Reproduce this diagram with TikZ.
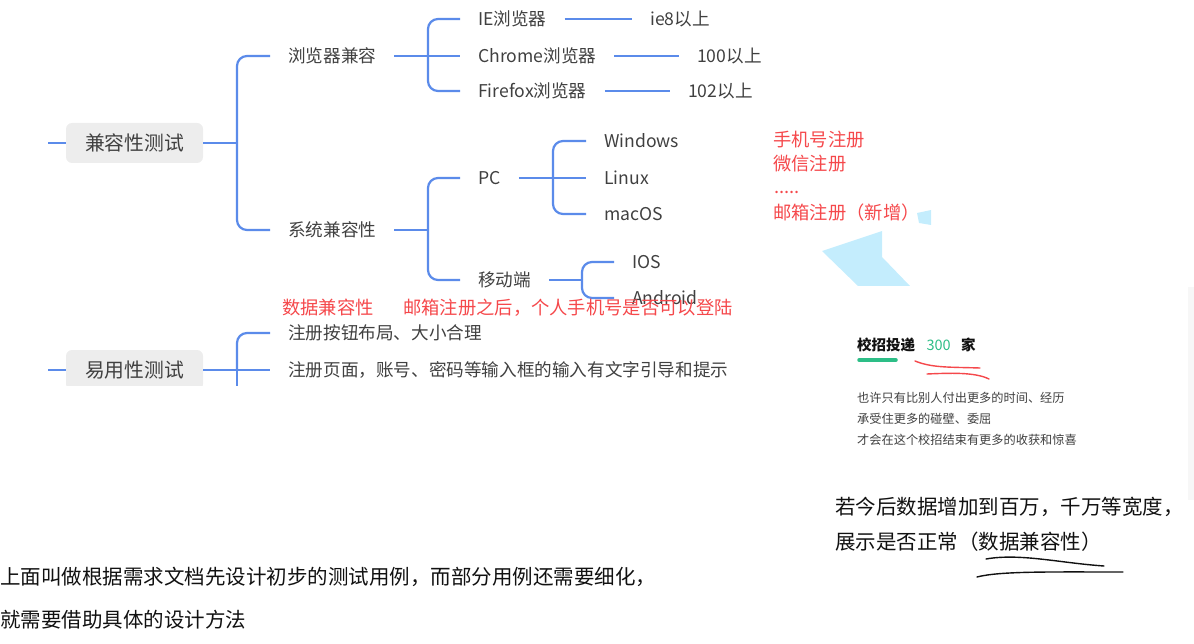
\documentclass[tikz,border=0pt]{standalone}
\usepackage{fontspec}
\setmainfont{Noto Sans CJK SC}
\usetikzlibrary{calc,positioning}
\definecolor{azul}{HTML}{5B8BEA}
\definecolor{cinza}{HTML}{404040}
\definecolor{cinzaclaro}{HTML}{EDEDED}
\definecolor{vermelho}{HTML}{F5484B}
\definecolor{verde}{HTML}{2DBE87}
\definecolor{menta}{HTML}{E3F6EE}
\definecolor{ciano}{HTML}{C4EDFD}
\definecolor{preto}{HTML}{111111}

\begin{document}
\begin{tikzpicture}[
  x=1pt,y=-1pt,
  raiz/.style={fill=cinzaclaro,rounded corners=6pt,minimum width=137pt,minimum height=40pt,
               inner sep=0pt,text=cinza,font=\fontsize{19.8}{22}\selectfont},
  ramo/.style={anchor=west,inner xsep=18pt,inner ysep=0pt,text=cinza,
               font=\fontsize{17.6}{20}\selectfont},
  lig/.style={azul,line width=2.2pt},
  chave/.style={lig,rounded corners=10pt},
  nota/.style={anchor=west,inner sep=0pt,text=vermelho,font=\fontsize{18.3}{20}\selectfont},
  texto/.style={anchor=west,inner sep=0pt,text=preto,font=\fontsize{20.5}{24}\selectfont},
  cartao/.style={anchor=west,inner sep=0pt,text=cinza,font=\fontsize{12.2}{14}\selectfont},
  rabisco/.style={line width=1.4pt,line cap=round}
]
  \useasboundingbox (0,0) rectangle (1194,644);

  % mapa mental (recortado em baixo)
  \begin{scope}
    \clip (0,0) rectangle (770,385);
    \node[raiz] (compat) at (134.5,143) {兼容性测试};
    \node[raiz] (uso) at (134.5,370) {易用性测试};
    \coordinate (in1) at (48,143);
    \coordinate (in2) at (48,370);
    \draw[lig] (in1) -- (compat.west);
    \draw[lig] (in2) -- (uso.west);

    \node[ramo] (nav) at (270,56) {浏览器兼容};
    \node[ramo] (sis) at (270,230) {系统兼容性};
    \coordinate (j1) at (237,143);
    \draw[lig] (compat.east) -- (j1);
    \draw[chave] (j1) |- (nav.west);
    \draw[chave] (j1) |- (sis.west);

    \node[ramo] (ie) at (460,19) {IE浏览器};
    \node[ramo] (chr) at (460,56) {Chrome浏览器};
    \node[ramo] (ff) at (460,91) {Firefox浏览器};
    \coordinate (j2) at (428,56);
    \draw[lig] (nav.east) -- (j2) -- (chr.west);
    \draw[chave] (j2) |- (ie.west);
    \draw[chave] (j2) |- (ff.west);

    \node[ramo] (ie8) at (632,19) {ie8以上};
    \node[ramo] (c100) at (679,56) {100以上};
    \node[ramo] (f102) at (670,91) {102以上};
    \draw[lig] (ie.east) -- (ie8.west);
    \draw[lig] (chr.east) -- (c100.west);
    \draw[lig] (ff.east) -- (f102.west);

    \node[ramo] (pc) at (460,178) {PC};
    \node[ramo] (mov) at (460,280) {移动端};
    \coordinate (j3) at (428,230);
    \draw[lig] (sis.east) -- (j3);
    \draw[chave] (j3) |- (pc.west);
    \draw[chave] (j3) |- (mov.west);

    \node[ramo] (win) at (586,141) {Windows};
    \node[ramo] (lin) at (586,178) {Linux};
    \node[ramo] (mac) at (586,214) {macOS};
    \coordinate (j4) at (553,178);
    \draw[lig] (pc.east) -- (j4) -- (lin.west);
    \draw[chave] (j4) |- (win.west);
    \draw[chave] (j4) |- (mac.west);

    \node[ramo] (ios) at (614,262) {IOS};
    \node[ramo] (and) at (614,298) {Android};
    \coordinate (j5) at (582,280);
    \draw[lig] (mov.east) -- (j5);
    \draw[chave] (j5) |- (ios.west);
    \draw[chave] (j5) |- (and.west);

    \node[ramo] (botao) at (270,333) {注册按钮布局、大小合理};
    \node[ramo] (pagina) at (270,370) {注册页面，账号、密码等输入框的输入有文字引导和提示};
    \coordinate (j6) at (237,370);
    \coordinate (fim) at (237,400);
    \draw[lig] (uso.east) -- (j6) -- (pagina.west);
    \draw[chave] (j6) |- (botao.west);
    \draw[lig] (j6) -- (fim);
  \end{scope}

  % notas em vermelho
  \node[nota] (dados) at (282,308) {数据兼容性};
  \node[nota] (login) at (403,308) {邮箱注册之后，个人手机号是否可以登陆};
  \node[nota] (tel) at (773,140) {手机号注册};
  \node[nota] (wx) at (773,164) {微信注册};
  \node[nota] (pts) at (774,192) {.....};
  \node[nota] (mail) at (773,213) {邮箱注册（新增）};

  % seta azul clara
  \fill[ciano] (822,251) -- (882,231) -- (882,257) -- (910,286) -- (858,286) -- cycle;
  \fill[ciano] (917,213) -- (931,210) -- (931,225) -- (919,223) -- cycle;

  % cartao
  \fill[left color=white,middle color=menta,right color=white] (858,287) rectangle (1188,492);
  \fill[black!3] (1188,287) rectangle (1194,500);
  \node[cartao,text=preto,font=\fontsize{14.5}{16}\bfseries] (titulo) at (857,345) {校招投递};
  \node[cartao,text=verde,font=\fontsize{14.5}{16}\selectfont,right=11pt of titulo] (num) {300};
  \node[cartao,text=preto,font=\fontsize{14.5}{16}\bfseries,right=10pt of num] (jia) {家};
  \draw[verde,line width=3.5pt,line cap=round] (859,360) -- (896,360);
  \draw[rabisco,vermelho] (915,361) .. controls (932,368) and (950,367) .. (980,368);
  \draw[rabisco,vermelho] (927,374) .. controls (950,373) and (975,372) .. (989,379);
  \node[cartao] (l1) at (857,398) {也许只有比别人付出更多的时间、经历};
  \node[cartao] (l2) at (857,419) {承受住更多的碰壁、委屈};
  \node[cartao] (l3) at (857,440) {才会在这个校招结束有更多的收获和惊喜};

  % texto de baixo
  \node[texto] (q1) at (835,507) {若今后数据增加到百万，千万等宽度，};
  \node[texto] (q2) at (835,542) {展示是否正常（数据兼容性）};
  \draw[rabisco,preto] (986,559) .. controls (1020,553) and (1060,563) .. (1104,566);
  \draw[rabisco,preto] (977,577) .. controls (1000,571) and (1050,572) .. (1123,572);
  \node[texto] (p1) at (0,577) {上面叫做根据需求文档先设计初步的测试用例，而部分用例还需要细化，};
  \node[texto] (p2) at (0,620) {就需要借助具体的设计方法};
\end{tikzpicture}
\end{document}
